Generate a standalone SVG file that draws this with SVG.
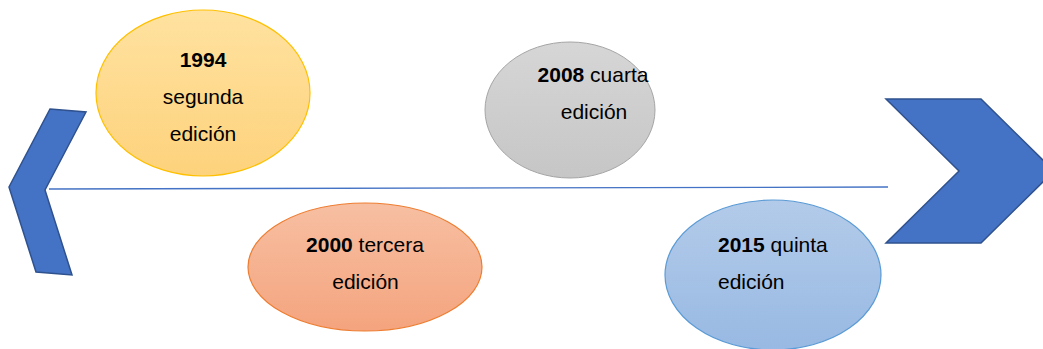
<svg xmlns="http://www.w3.org/2000/svg" width="1043" height="349" viewBox="0 0 1043 349">
<defs>
<linearGradient id="gY" x1="0" y1="0" x2="0" y2="1"><stop offset="0" stop-color="#ffe2a0"/><stop offset="1" stop-color="#fdd27c"/></linearGradient>
<linearGradient id="gG" x1="0" y1="0" x2="0" y2="1"><stop offset="0" stop-color="#d6d6d6"/><stop offset="1" stop-color="#c6c6c6"/></linearGradient>
<linearGradient id="gO" x1="0" y1="0" x2="0" y2="1"><stop offset="0" stop-color="#f7bfa2"/><stop offset="1" stop-color="#f4a47e"/></linearGradient>
<linearGradient id="gB" x1="0" y1="0" x2="0" y2="1"><stop offset="0" stop-color="#b3cbe9"/><stop offset="1" stop-color="#98b9e3"/></linearGradient>
<style>
.t{font-family:"Liberation Sans",Arial,sans-serif;font-size:21px;fill:#000}
.b{font-weight:bold}
.chev{fill:#4472c4;stroke:#2f528f;stroke-width:1.5;stroke-linejoin:miter}
</style>
</defs>
<rect width="1043" height="349" fill="#ffffff"/>
<g id="connectors">
<line x1="49" y1="189" x2="888" y2="187" stroke="#4472c4" stroke-width="1.3"/>
</g>
<g id="left-chevron">
<polygon class="chev" points="50,109 86,112 45,190 72,275 36,272 9,187"/>
</g>
<g id="right-chevron">
<polygon class="chev" points="886,99 981,99 1054,171 981,243 886,243 959,171"/>
</g>
<g id="n1994">
<ellipse cx="203" cy="93" rx="107" ry="83" fill="url(#gY)" stroke="#ffc000" stroke-width="1.2"/>
<text class="t" text-anchor="middle"><tspan class="b" x="203" y="67">1994</tspan><tspan x="203" y="104">segunda</tspan><tspan x="203" y="141">edición</tspan></text>
</g>
<g id="n2008">
<ellipse cx="570" cy="110" rx="85" ry="68" fill="url(#gG)" stroke="#a5a5a5" stroke-width="1"/>
<text class="t" text-anchor="middle"><tspan x="593" y="82"><tspan class="b">2008</tspan> cuarta</tspan><tspan x="594" y="119">edición</tspan></text>
</g>
<g id="n2000">
<ellipse cx="365" cy="267" rx="117" ry="64" fill="url(#gO)" stroke="#ed7d31" stroke-width="1.2"/>
<text class="t" text-anchor="middle"><tspan x="365" y="252"><tspan class="b">2000</tspan> tercera</tspan><tspan x="365.5" y="289">edición</tspan></text>
</g>
<g id="n2015">
<ellipse cx="773" cy="275" rx="108" ry="75" fill="url(#gB)" stroke="#5b9bd5" stroke-width="1.2"/>
<text class="t"><tspan x="718" y="252"><tspan class="b">2015</tspan> quinta</tspan><tspan x="718" y="289">edición</tspan></text>
</g>
</svg>
